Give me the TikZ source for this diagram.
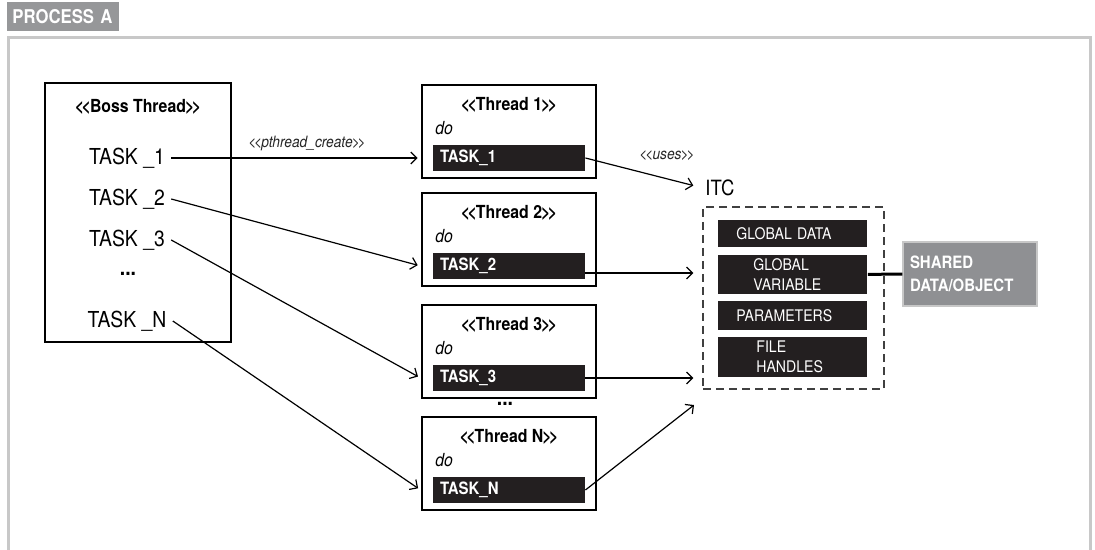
\documentclass[tikz,border=0pt]{standalone}
\usepackage{fontspec}
\setmainfont{TeX Gyre Heros}[FakeStretch=0.88]
\usepackage{xcolor}
\usetikzlibrary{arrows.meta,positioning,calc}

\definecolor{barblack}{RGB}{35,31,32}
\definecolor{procgray}{RGB}{150,151,153}
\definecolor{framegray}{RGB}{200,200,200}
\definecolor{sharedgray}{RGB}{143,144,147}
\newcommand{\stereo}[1]{<\kern-0.14em<\kern-0.05em#1\kern-0.05em>\kern-0.14em>}

\begin{document}
\begin{tikzpicture}[x=0.5pt,y=-0.5pt,>={Straight Barb[length=3pt,width=6pt]},
  threadbox/.style={draw,line width=1.4pt,minimum width=87pt,minimum height=46.5pt,inner sep=0pt},
  threadtitle/.style={font=\bfseries\fontsize{9}{11}\selectfont,inner sep=1pt},
  dolbl/.style={anchor=west,font=\itshape\fontsize{9}{11}\selectfont,inner sep=2pt},
  taskbar/.style={fill=barblack,text=white,font=\bfseries\fontsize{8.5}{10}\selectfont,
    text width=69pt,inner xsep=3.5pt,inner ysep=0pt,minimum height=13pt,align=left},
  bosstask/.style={font=\fontsize{11}{13}\selectfont,inner sep=3pt},
  itcbar/.style={anchor=west,fill=barblack,text=white,font=\fontsize{8}{10}\selectfont,
    align=left,inner ysep=0pt},
  link/.style={->,line width=0.6pt},
  stereolbl/.style={font=\itshape\fontsize{7.8}{9}\selectfont,text=black!85}]
\useasboundingbox (0,0) rectangle (1095,550);
% process frame
\draw[framegray,line width=1.5pt] (8,550) -- (8,38) -- (1090,38) -- (1090,550);
\node[fill=procgray,text=white,font=\bfseries\fontsize{9.5}{11}\selectfont,anchor=north west,
  minimum height=14.5pt,inner xsep=2.5pt,text width=51pt,align=left] (proc) at (7,2) {PROCESS A};
% boss thread
\node[draw,line width=0.8pt,minimum width=93pt,minimum height=129.5pt] (boss) at (138,212.5) {};
\node[threadtitle] (bosstitle) at (138,107) {\stereo{Boss Thread}};
\node[bosstask] (b1) at (127,158) {TASK \_1};
\node[bosstask] (b2) at (127,199) {TASK \_2};
\node[bosstask] (b3) at (127,240) {TASK \_3};
\node[bosstask,font=\bfseries\fontsize{11}{13}\selectfont] (bdots) at (128,274) {...};
\node[bosstask] (bN) at (127,321) {TASK \_N};
% worker threads
\node[threadbox] (th1) at (509,131.5) {};
\node[threadtitle] (ttl1) at (509,105) {\stereo{Thread 1}};
\node[dolbl] (do1) at (431,128) {do};
\node[taskbar] (tk1) at (509,158) {TASK\_1};

\node[threadbox] (th2) at (509,239.5) {};
\node[threadtitle] (ttl2) at (509,213) {\stereo{Thread 2}};
\node[dolbl] (do2) at (431,236) {do};
\node[taskbar] (tk2) at (509,266) {TASK\_2};

\node[threadbox] (th3) at (509,351.5) {};
\node[threadtitle] (ttl3) at (509,325) {\stereo{Thread 3}};
\node[dolbl] (do3) at (431,348) {do};
\node[taskbar] (tk3) at (509,378) {TASK\_3};

\node[font=\bfseries\fontsize{11}{13}\selectfont,inner sep=1pt] (tdots) at (505,404) {...};

\node[threadbox] (thN) at (509,463.5) {};
\node[threadtitle] (ttlN) at (509,437) {\stereo{Thread N}};
\node[dolbl] (doN) at (431,460) {do};
\node[taskbar] (tkN) at (509,490) {TASK\_N};
% ITC
\node[draw=black!75,dashed,dash pattern=on 4pt off 2.5pt,line width=0.6pt,
  minimum width=90.5pt,minimum height=91pt] (itcbox) at (793.5,298) {};
\node[anchor=west,font=\fontsize{10.5}{12}\selectfont,inner sep=1pt] (itc) at (703,188) {ITC};
\node[itcbar,inner xsep=9pt,text width=56.5pt,minimum height=13.5pt] (gdata) at (718,233.5) {GLOBAL DATA};
\node[itcbar,inner xsep=17.5pt,text width=39.5pt,minimum height=19.5pt] (gvar) at (718,274.5) {GLOBAL\\VARIABLE};
\node[itcbar,inner xsep=9pt,text width=56.5pt,minimum height=14.5pt] (params) at (718,315.5) {PARAMETERS};
\node[itcbar,inner xsep=19pt,text width=36.5pt,minimum height=20pt] (fileh) at (718,357) {FILE\\HANDLES};
\node[fill=sharedgray,draw=black!22,line width=0.6pt,text=white,font=\bfseries\fontsize{8.5}{11.5}\selectfont,
  minimum height=32pt,inner xsep=3.5pt,text width=60pt,align=left] (shared) at (970,274) {SHARED\\DATA/OBJECT};
\coordinate (itcN) at (694,405);
% connectors
\draw[link,shorten >=1.5pt] (b1.east) -- (th1.west |- tk1);
\draw[link,shorten >=1.5pt] (b2.east) -- (th2.west |- tk2);
\draw[link,shorten >=1.5pt] (b3.east) -- (th3.west |- tk3);
\draw[link,shorten >=1.5pt] (bN.east) -- (thN.west |- tkN);
\node[stereolbl] (create) at (307,143) {\stereo{pthread\_create}};
\draw[link,shorten >=5pt] (tk1.east) -- (itc.west);
\node[stereolbl] (uses) at (667,156) {\stereo{uses}};
\draw[link,shorten >=4.5pt] ([yshift=-3.5pt]tk2.east) -- ([yshift=-3.5pt]tk2.east -| itcbox.west);
\draw[link,shorten >=4.5pt] (tk3.east) -- (tk3.east -| itcbox.west);
\draw[link] (tkN.east) -- (itcN);
\draw[line width=1.5pt] (gvar) -- (shared);
\end{tikzpicture}
\end{document}
